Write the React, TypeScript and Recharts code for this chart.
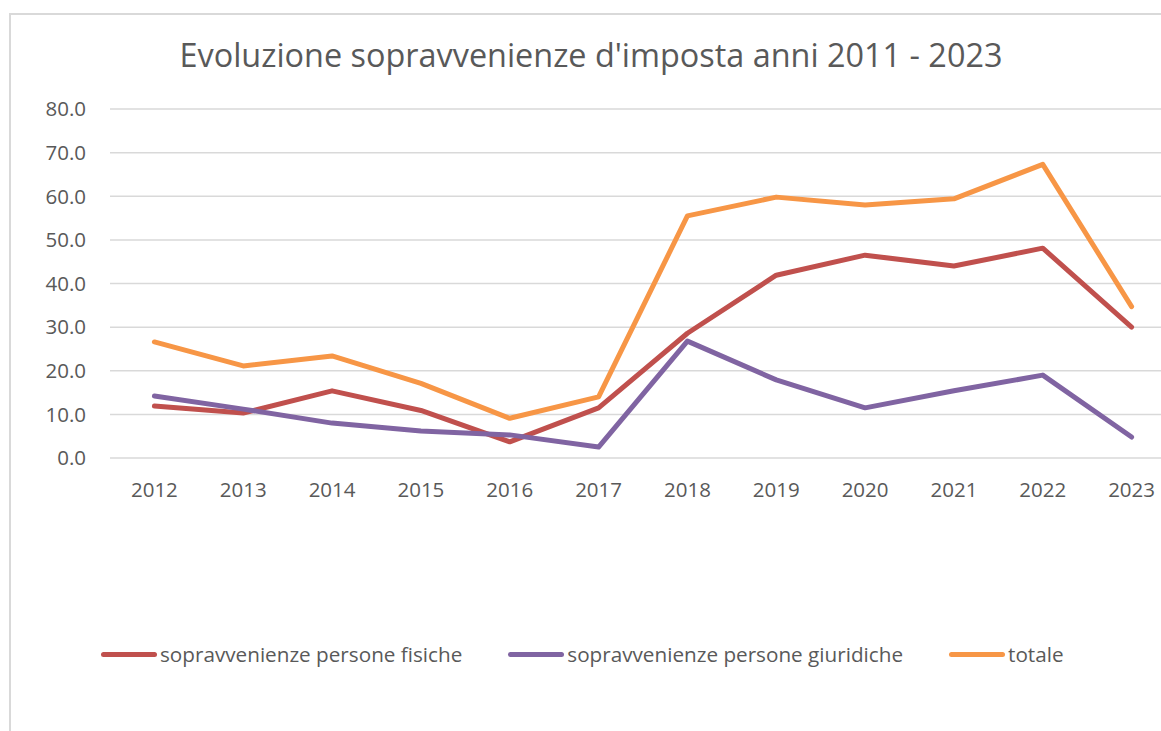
import { LineChart, Line, XAxis, YAxis, CartesianGrid } from 'recharts';

const years = ['2012', '2013', '2014', '2015', '2016', '2017', '2018', '2019', '2020', '2021', '2022', '2023'];
const fisiche = [11.9, 10.3, 15.4, 10.9, 3.7, 11.5, 28.6, 41.9, 46.5, 44.0, 48.1, 30.0];
const giuridiche = [14.2, 11.2, 8.0, 6.2, 5.3, 2.5, 26.8, 17.9, 11.5, 15.4, 19.0, 4.8];
const totale = [26.6, 21.1, 23.4, 17.1, 9.1, 14.0, 55.5, 59.8, 58.0, 59.4, 67.3, 34.7];
const yTicks = [0, 10, 20, 30, 40, 50, 60, 70, 80];

const series = [
  { key: 'fisiche', name: 'sopravvenienze persone fisiche', color: '#C0504D' },
  { key: 'giuridiche', name: 'sopravvenienze persone giuridiche', color: '#8064A2' },
  { key: 'totale', name: 'totale', color: '#F79646' },
];

const data = years.map((year, i) => ({
  year,
  fisiche: fisiche[i],
  giuridiche: giuridiche[i],
  totale: totale[i],
}));

const font = '"Open Sans", sans-serif';
const textColor = '#595959';

export default function App() {
  return (
    <div style={{ position: 'fixed', left: 0, top: 0, width: 1161, height: 731, overflow: 'hidden', background: '#fff', fontFamily: font }}>
      {/* chart frame, cut off at right and bottom like the source */}
      <div style={{ position: 'absolute', left: 9, top: 13, width: 1300, height: 900, border: '2px solid #d9d9d9' }} />

      <svg width={1161} height={100} style={{ position: 'absolute', left: 0, top: 0 }}>
        <text x={591} y={67} textAnchor="middle" fontSize={32.4} fill={textColor} fontFamily={font}>
          Evoluzione sopravvenienze d'imposta anni 2011 - 2023
        </text>
      </svg>

      <div style={{ position: 'absolute', left: 0, top: 0 }}>
        <LineChart width={1210} height={731} data={data} margin={{ top: 109, right: 34, left: 0, bottom: 233 }}>
          <CartesianGrid horizontal vertical={false} stroke="#d9d9d9" strokeWidth={1.5} />
          <XAxis
            dataKey="year"
            axisLine={false}
            tickLine={false}
            tickSize={0}
            tickMargin={24}
            height={40}
            padding={{ left: 44.4, right: 44.4 }}
            tick={{ fill: textColor, fontSize: 20.5, fontFamily: font }}
          />
          <YAxis
            domain={[0, 80]}
            ticks={yTicks}
            axisLine={false}
            tickLine={false}
            tickSize={0}
            tickMargin={24}
            width={110}
            tickFormatter={(v: number) => v.toFixed(1)}
            tick={{ fill: textColor, fontSize: 20.5, fontFamily: font }}
          />
          {series.map(s => (
            <Line
              key={s.key}
              type="linear"
              dataKey={s.key}
              name={s.name}
              stroke={s.color}
              strokeWidth={5}
              strokeLinecap="round"
              strokeLinejoin="round"
              dot={false}
              activeDot={false}
              isAnimationActive={false}
            />
          ))}
        </LineChart>
      </div>

      <div style={{ position: 'absolute', left: 101, top: 644, display: 'flex', alignItems: 'center', fontSize: 20.7, lineHeight: 1, color: textColor, whiteSpace: 'nowrap' }}>
        {series.map(s => (
          <div key={s.key} style={{ display: 'flex', alignItems: 'center', marginRight: 46 }}>
            <span style={{ display: 'inline-block', width: 56, height: 5, borderRadius: 3, background: s.color, marginRight: 3 }} />
            <span>{s.name}</span>
          </div>
        ))}
      </div>
    </div>
  );
}
